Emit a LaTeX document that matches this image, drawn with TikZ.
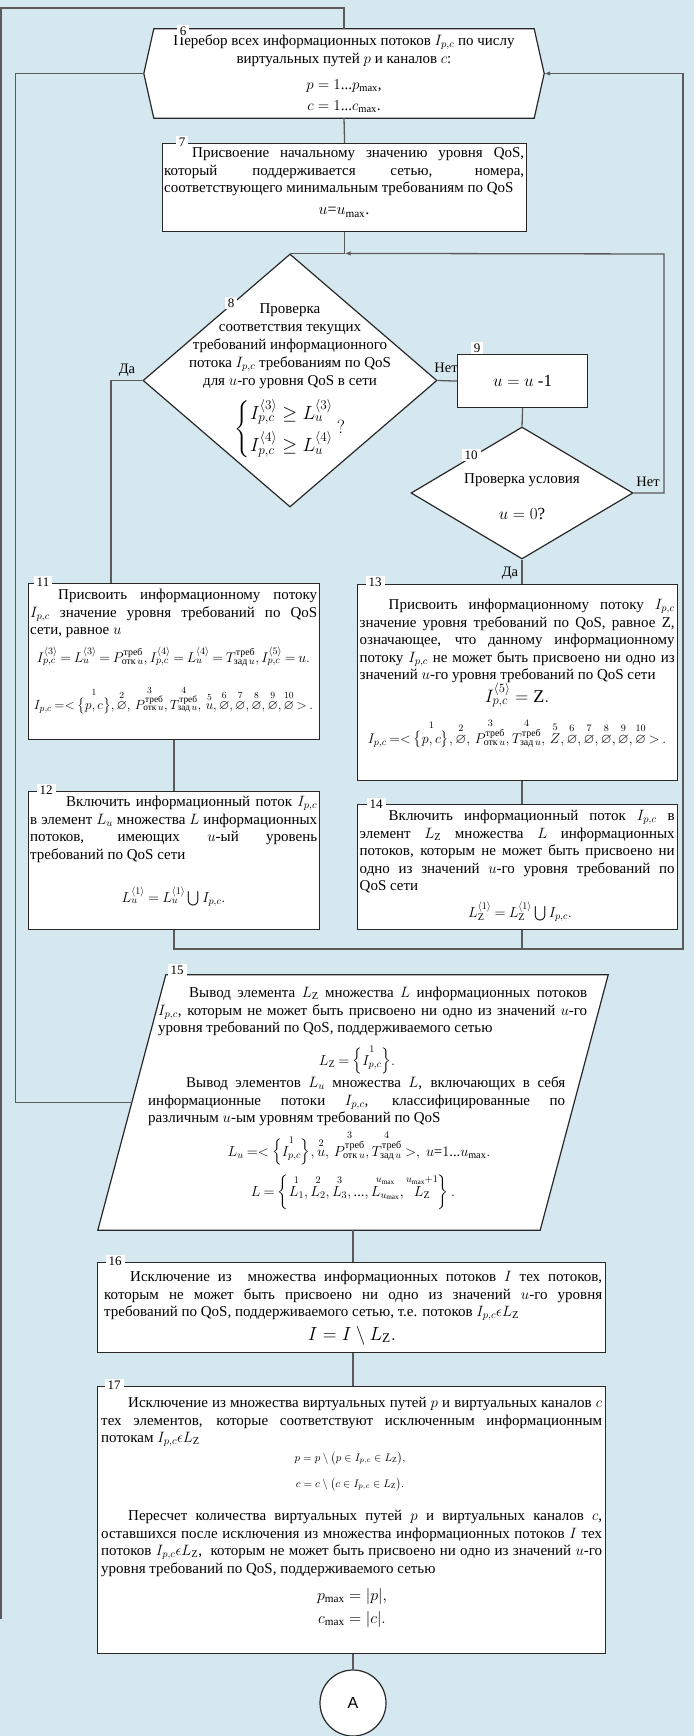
\RequirePackage{fix-cm}
\documentclass[tikz,border=0pt]{standalone}
\usepackage{amsmath,amssymb}
\usepackage{fontspec}
\setmainfont{Liberation Serif}
\newfontfamily\sansA{Liberation Sans}
\usetikzlibrary{arrows.meta,shapes.geometric}
\definecolor{bgc}{RGB}{213,232,240}
\definecolor{lnc}{RGB}{90,90,90}
\definecolor{bdc}{RGB}{40,40,40}
\newcommand\Tf{\fontsize{15}{17.5}\selectfont}
\newcommand\Ff{\fontsize{14.5}{17.5}\selectfont\thickmuskip=4mu plus 2mu\medmuskip=3mu plus 1mu}
\newcommand\Fs{\fontsize{14.1}{17}\selectfont\thickmuskip=3.5mu plus 1mu\medmuskip=2.5mu plus 1mu}
\newcommand\Fr{\fontsize{13.3}{17}\selectfont\thickmuskip=3.5mu plus 1mu\medmuskip=2.5mu plus 1mu}
\newcommand\Ipc{I_{p,c}}
\newcommand\trb{\text{треб}}
\newcommand\otk{\text{отк}\,u}
\newcommand\zad{\text{зад}\,u}
\newcommand\ZZ{\mathrm{Z}}
\newcommand\agl[1]{\langle #1\rangle}
\newcommand\ov[2]{\overset{#1}{#2}}
\newcommand\dts{\text{...}}
\begin{document}
\begin{tikzpicture}[x=1pt,y=-1pt,
 box/.style={draw=bdc,line width=1.2pt,fill=white,rectangle,inner sep=0pt,anchor=north west},
 conn/.style={draw=lnc,line width=1.3pt},
 arr/.style={-{Latex[length=6pt,width=4.5pt]}},
 para/.style={anchor=north west,inner sep=0pt,align=justify,font=\Tf},
 ctr/.style={anchor=north,inner sep=0pt,align=center,font=\Tf},
 fml/.style={anchor=base,inner sep=0pt,font=\Ff},
 num/.style={fill=white,inner xsep=3pt,inner ysep=1.5pt,font=\fontsize{13}{13}\selectfont},
 yn/.style={inner sep=0pt,font=\fontsize{14.5}{14.5}\selectfont}]
\fill[bgc] (0,0) rectangle (694,1736);
\useasboundingbox (0,0) rectangle (694,1736);

% 6
\node[minimum width=400pt,minimum height=89pt,inner sep=0pt] (n6) at (344,73.5) {};
\draw[draw=bdc,line width=1.2pt,fill=white] ([xshift=10pt]n6.north west) -- ([xshift=-10pt]n6.north east) -- (n6.east) -- ([xshift=-10pt]n6.south east) -- ([xshift=10pt]n6.south west) -- (n6.west) -- cycle;
\node[ctr] (t6) at (344,33.25) {\strut Перебор всех информационных потоков $\Ipc$ по числу\\[0.5pt] виртуальных путей $p$ и каналов $c$:\\[8.5pt] $p=1\dts p_{\max}$,\\[3.5pt] $c=1\dts c_{\max}$.};

% 7
\node[box,minimum width=364pt,minimum height=88pt] (n7) at (162,143) {};
\node[para,text width=360pt] (t7) at (164,145.25) {\strut\hspace*{28pt}Присвоение начальному значению уровня QoS,\linebreak который поддерживается сетью, номера,\linebreak соответствующего минимальным требованиям по QoS};
\node[fml,font=\fontsize{16}{18}\selectfont] (f7) at (344,215) {$u$=$u_{\max}$.};

% 8
\node[diamond,draw=bdc,line width=1.2pt,fill=white,minimum width=294pt,minimum height=253pt,inner sep=0pt] (n8) at (290,380.5) {};
\node[ctr] (t8) at (290,301.25) {\strut Проверка\\[0.5pt] соответствия текущих\\[0.5pt] требований информационного\\[0.5pt] потока $\Ipc$ требованиям по QoS\\[0.5pt] для $u$-го уровня QoS в сети};
\node[inner sep=0pt,font=\fontsize{19}{22}\selectfont] (f8) at (290,429) {$\left\{\begin{array}{@{}l@{}}I^{\agl{3}}_{p,c}\geq L^{\agl{3}}_u\\[6pt] I^{\agl{4}}_{p,c}\geq L^{\agl{4}}_u\end{array}\right.\,?$};

% 9
\node[box,minimum width=130pt,minimum height=53pt,font=\fontsize{17}{20}\selectfont] (n9) at (457,354) {$u = u$ -1};

% 10
\node[diamond,draw=bdc,line width=1.2pt,fill=white,minimum width=222pt,minimum height=132pt,inner sep=0pt] (n10) at (522,493) {};
\node[fml,font=\Tf] (t10) at (522,483.5) {Проверка условия};
\node[fml,font=\fontsize{17}{20}\selectfont] (f10) at (522,519) {$u = 0$?};

% 11
\node[box,minimum width=291pt,minimum height=156pt] (n11) at (28,583) {};
\node[para,text width=287pt] (t11) at (30,587.25) {\strut\hspace*{28pt}Присвоить информационному потоку\linebreak $\Ipc$ значение уровня требований по QoS\linebreak сети, равное $u$};
\node[fml,font=\Fs] (f11a) at (173.5,662) {$I^{\agl3}_{p,c}=L^{\agl3}_u=P^{\trb}_{\otk},I^{\agl4}_{p,c}=L^{\agl4}_u=T^{\trb}_{\zad},I^{\agl5}_{p,c}=u.$};
\node[fml,font=\Fr] (f11b) at (173.5,709) {$\Ipc=<\ov{1}{\bigl\{p,c\bigr\}},\ov{2}{\varnothing},\,\ov{3}{P^{\trb}_{\otk}},\ov{4}{T^{\trb}_{\zad}},\,\ov{5}{u},\ov{6}{\varnothing},\ov{7}{\varnothing},\ov{8}{\varnothing},\ov{9}{\varnothing},\ov{10}{\varnothing}>.$};

% 12
\node[box,minimum width=291pt,minimum height=138pt] (n12) at (28,791) {};
\node[para,text width=287pt] (t12) at (30,794.25) {\strut\hspace*{36pt}Включить информационный поток $\Ipc$\linebreak в элемент $L_u$ множества $L$ информационных\linebreak потоков, имеющих $u$-ый уровень\linebreak требований по QoS сети};
\node[fml] (f12) at (173.5,902) {$L^{\agl1}_u=L^{\agl1}_u\bigcup \Ipc.$};

% 13
\node[box,minimum width=320pt,minimum height=196pt] (n13) at (357,584) {};
\node[para,text width=315pt] (t13) at (359.5,597.25) {\strut\hspace*{29pt}Присвоить информационному потоку $\Ipc$\linebreak значение уровня требований по QoS, равное Z,\linebreak означающее, что данному информационному\linebreak потоку $\Ipc$ не может быть присвоено ни одно из\linebreak значений $u$-го уровня требований по QoS сети};
\node[fml,font=\fontsize{18}{21}\selectfont] (f13a) at (517,702) {$I^{\agl5}_{p,c}=\mathrm{Z}.$};
\node[fml,font=\Fs] (f13b) at (517,743) {$\Ipc=<\ov{1}{\bigl\{p,c\bigr\}},\ov{2}{\varnothing},\,\ov{3}{P^{\trb}_{\otk}},\ov{4}{T^{\trb}_{\zad}},\,\ov{5}{Z},\ov{6}{\varnothing},\ov{7}{\varnothing},\ov{8}{\varnothing},\ov{9}{\varnothing},\ov{10}{\varnothing}>.$};

% 14
\node[box,minimum width=320pt,minimum height=125pt] (n14) at (357,804) {};
\node[para,text width=315pt] (t14) at (359.5,808.25) {\strut\hspace*{29pt}Включить информационный поток $\Ipc$ в\linebreak элемент $L_{\ZZ}$ множества $L$ информационных\linebreak потоков, которым не может быть присвоено ни\linebreak одно из значений $u$-го уровня требований по\linebreak QoS сети};
\node[fml] (f14) at (520,917) {$L^{\agl1}_{\ZZ}=L^{\agl1}_{\ZZ}\bigcup\Ipc.$};

% 15
\node[minimum width=442pt,minimum height=255pt,inner sep=0pt] (n15) at (353,1102.5) {};
\draw[draw=bdc,line width=1.2pt,fill=white] ([xshift=34pt]n15.north west) -- ([xshift=34pt]n15.north east) -- ([xshift=-34pt]n15.south east) -- ([xshift=-34pt]n15.south west) -- cycle;
\node[para,text width=429pt] (t15a) at (158,985.25) {\strut\hspace*{31pt}Вывод элемента $L_{\ZZ}$ множества $L$ информационных потоков\linebreak $\Ipc$, которым не может быть присвоено ни одно из значений $u$-го\linebreak уровня требований по QoS, поддерживаемого сетью};
\node[fml] (f15a) at (357,1065) {$L_{\ZZ}=\Bigl\{\ov{1}{\Ipc}\Bigr\}.$};
\node[para,text width=417pt] (t15b) at (148,1075.25) {\strut\hspace*{38pt}Вывод элементов $L_u$ множества $L$, включающих в себя\linebreak информационные потоки $\Ipc$, классифицированные по\linebreak различным $u$-ым уровням требований по QoS};
\node[fml] (f15b) at (359,1156) {$L_u=<\Bigl\{\ov{1}{\Ipc}\Bigr\},\ov{2}{u},\,\ov{3}{P^{\trb}_{\otk}},\ov{4}{T^{\trb}_{\zad}}>,\ u\text{=}1\dts u_{\max}.$};
\node[fml] (f15c) at (353,1196) {$L=\left\{\ov{1}{L_1},\ov{2}{L_2},\ov{3}{L_3},\dts,\ov{u_{\max}}{L_{u_{\max}}},\ov{u_{\max}+1}{L_{\ZZ}}\right\}.$};

% 16
\node[box,minimum width=508pt,minimum height=90pt] (n16) at (97,1262) {};
\node[para,text width=498pt] (t16) at (104,1269.25) {\strut\hspace*{26pt}Исключение из\ \ множества информационных потоков $I$ тех потоков,\linebreak которым не может быть присвоено ни одно из значений $u$-го уровня\linebreak требований по QoS, поддерживаемого сетью, т.е. потоков $\Ipc\epsilon L_{\ZZ}$};
\node[fml,font=\fontsize{19}{22}\selectfont] (f16) at (352,1340) {$I=I\setminus L_{\ZZ}.$};

% 17
\node[box,minimum width=508pt,minimum height=267pt] (n17) at (97,1386) {};
\node[para,text width=501pt] (t17a) at (101,1395.25) {\strut\hspace*{27pt}Исключение из множества виртуальных путей $p$ и виртуальных каналов $c$\linebreak тех элементов, которые соответствуют исключенным информационным\linebreak потокам $\Ipc\epsilon L_{\ZZ}$};
\node[fml,font=\fontsize{11}{13}\selectfont] (f17a) at (350,1461) {$p=p\setminus\bigl(p\in\Ipc\in L_{\ZZ}\bigr),$};
\node[fml,font=\fontsize{11}{13}\selectfont] (f17b) at (350,1487) {$c=c\setminus\bigl(c\in\Ipc\in L_{\ZZ}\bigr).$};
\node[para,text width=501pt] (t17b) at (101,1508.25) {\strut\hspace*{27pt}Пересчет количества виртуальных путей $p$ и виртуальных каналов $c$,\linebreak оставшихся после исключения из множества информационных потоков $I$ тех\linebreak потоков $\Ipc\epsilon L_{\ZZ}$,\ \ которым не может быть присвоено ни одно из значений $u$-го\linebreak уровня требований по QoS, поддерживаемого сетью};
\node[fml,font=\fontsize{16}{19}\selectfont] (f17c) at (352,1600) {$p_{\max}=\lvert p\rvert,$};
\node[fml,font=\fontsize{16}{19}\selectfont] (f17d) at (352,1623) {$c_{\max}=\lvert c\rvert.$};

% A
\node[circle,draw=bdc,line width=1.2pt,fill=white,minimum size=66pt,inner sep=0pt,font=\sansA\fontsize{16}{16}\selectfont] (nA) at (353,1703) {A};

% connectors
\coordinate (o1) at (1,1619);
\coordinate (o2) at (1,8);
\draw[conn] (o1) -- (o2) -| (n6.north);
\draw[conn] (n6.south) -- (n7.north);
\coordinate (j8) at (n7.south |- n8.north);
\draw[conn] (n7.south) -- (j8);
\coordinate (r10) at (664,254);
\draw[conn,arr] (n10.east) -| (r10) -- (j8);
\draw[conn] (j8) -- (n8.north);
\draw[conn] (n8.west) -| ([xshift=-63pt]n11.north);
\draw[conn] (n8.east) -- (n9.west);
\draw[conn] (n9.south) -- (n10.north);
\draw[conn] (n10.south) -- (n10.south |- n13.north);
\draw[conn] (n11.south) -- (n12.north);
\draw[conn] (n10.south |- n13.south) -- (n10.south |- n14.north);
\coordinate (jr) at (683,949);
\draw[conn,arr] (n12.south) |- (jr) |- (n6.east);
\draw[conn] (n10.south |- n14.south) -- (n10.south |- jr);
\coordinate (l6) at (15.5,500);
\draw[conn] (n6.west) -| (l6) |- (n15.west);
\draw[conn] (n15.south) -- (n15.south |- n16.north);
\draw[conn] (n15.south |- n16.south) -- (n15.south |- n17.north);
\draw[conn] (n15.south |- n17.south) -- (nA.north);

% labels
\node[yn] (da8) at (127,370) {Да};
\node[yn] (net8) at (446,368) {Нет};
\node[yn] (net10) at (648,482) {Нет};
\node[yn] (da10) at (510,573) {Да};
\node[num] (lab6) at (183,31) {6};
\node[num] (lab7) at (182,142) {7};
\node[num] (lab8) at (231,303) {8};
\node[num] (lab9) at (477,348) {9};
\node[num] (lab10) at (471,455) {10};
\node[num] (lab11) at (43,582) {11};
\node[num] (lab13) at (375,582) {13};
\node[num] (lab12) at (46,790) {12};
\node[num] (lab14) at (376,804) {14};
\node[num] (lab15) at (177,970) {15};
\node[num] (lab16) at (115,1261) {16};
\node[num] (lab17) at (114,1385) {17};
\end{tikzpicture}
\end{document}
